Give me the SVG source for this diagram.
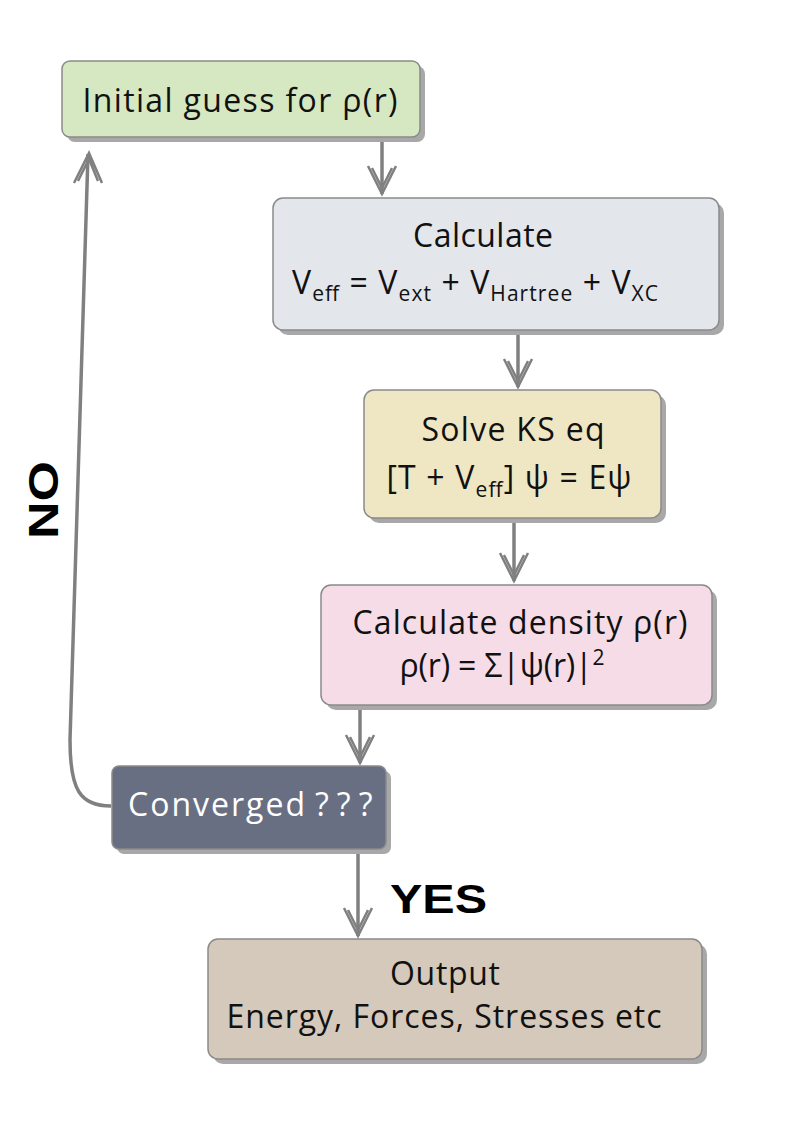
<svg xmlns="http://www.w3.org/2000/svg" width="794" height="1123" viewBox="0 0 794 1123">
<style>
.box{stroke:#8a8a8a;stroke-width:1.5}
.sh{fill:#a8a8a8}
.t{font-family:"Open Sans","Liberation Sans",sans-serif;font-size:32px;fill:#111;text-anchor:middle}
.sub{font-size:21px}
.lbl{font-family:"Liberation Sans",sans-serif;font-weight:bold;fill:#000}
.edge{fill:none;stroke:#808080;stroke-width:3.5}
.head{fill:none;stroke:#808080;stroke-width:2.5;stroke-linejoin:miter}
</style>
<rect width="794" height="1123" fill="#ffffff"/>
<g id="connectors">
<line class="edge" x1="382" y1="139" x2="382" y2="194"/>
<path class="head" d="M368,166 L382,194 L396,166 M372,168 L382,188 L392,168"/>
<line class="edge" x1="518" y1="332" x2="518" y2="387"/>
<path class="head" d="M504,359 L518,387 L532,359 M508,361 L518,381 L528,361"/>
<line class="edge" x1="514" y1="520" x2="514" y2="581"/>
<path class="head" d="M500,553 L514,581 L528,553 M504,555 L514,575 L524,555"/>
<line class="edge" x1="360" y1="707" x2="360" y2="763"/>
<path class="head" d="M346,735 L360,763 L374,735 M350,737 L360,757 L370,737"/>
<line class="edge" x1="358" y1="851" x2="358" y2="936"/>
<path class="head" d="M344,908 L358,936 L372,908 M348,910 L358,930 L368,910"/>
<path class="edge" d="M111,806 C80,806 70,790 70,740 L88,154"/>
<path class="head" d="M74,183 L89,153 L102,183 M78,181 L89,159 L98,181"/>
</g>
<g id="n1">
<rect class="sh" x="67" y="66" width="358" height="76" rx="8"/>
<rect class="box" x="62" y="61" width="358" height="76" rx="8" fill="#d5e8c1"/>
<text class="t" x="240" y="112" textLength="315" lengthAdjust="spacing">Initial guess for ρ(r)</text>
</g>
<g id="n2">
<rect class="sh" x="278" y="203" width="446" height="132" rx="10"/>
<rect class="box" x="273" y="198" width="446" height="132" rx="10" fill="#e3e6eb"/>
<text class="t" x="483" y="247" textLength="140" lengthAdjust="spacing">Calculate</text>
<text class="t" x="475" y="294" textLength="366" lengthAdjust="spacing">V<tspan class="sub" dy="7">eff</tspan><tspan dy="-7"> = V</tspan><tspan class="sub" dy="7">ext</tspan><tspan dy="-7"> + V</tspan><tspan class="sub" dy="7">Hartree</tspan><tspan dy="-7"> + V</tspan><tspan class="sub" dy="7">XC</tspan></text>
</g>
<g id="n3">
<rect class="sh" x="369" y="395" width="297" height="128" rx="10"/>
<rect class="box" x="364" y="390" width="297" height="128" rx="10" fill="#efe6c4"/>
<text class="t" x="513" y="441" textLength="183" lengthAdjust="spacing">Solve KS eq</text>
<text class="t" x="509" y="489" textLength="245" lengthAdjust="spacing">[T + V<tspan class="sub" dy="8">eff</tspan><tspan dy="-8">] ψ = Eψ</tspan></text>
</g>
<g id="n4">
<rect class="sh" x="326" y="590" width="391" height="120" rx="10"/>
<rect class="box" x="321" y="585" width="391" height="120" rx="10" fill="#f6dce6"/>
<text class="t" x="520" y="634" textLength="335" lengthAdjust="spacing">Calculate density ρ(r)</text>
<text class="t" x="502" y="677" textLength="205" lengthAdjust="spacing">ρ(r) = Σ|ψ(r)|<tspan class="sub" dy="-12">2</tspan></text>
</g>
<g id="n5">
<rect class="sh" x="117" y="771" width="274" height="83" rx="7"/>
<rect class="box" x="112" y="766" width="274" height="83" rx="7" fill="#696f83"/>
<text class="t" x="128" y="816" style="fill:#ffffff;text-anchor:start"><tspan letter-spacing="2">Converged</tspan><tspan x="315" letter-spacing="8">???</tspan></text>
</g>
<g id="n6">
<rect class="sh" x="213" y="944" width="494" height="120" rx="10"/>
<rect class="box" x="208" y="939" width="494" height="120" rx="10" fill="#d4c9bb"/>
<text class="t" x="445" y="985" textLength="110" lengthAdjust="spacing">Output</text>
<text class="t" x="444" y="1028" textLength="435" lengthAdjust="spacing">Energy, Forces, Stresses etc</text>
</g>
<text class="lbl" x="0" y="0" font-size="42" transform="translate(58,500) rotate(-90)" text-anchor="middle" textLength="78" lengthAdjust="spacingAndGlyphs">NO</text>
<text class="lbl" x="390" y="913" font-size="40" textLength="97" lengthAdjust="spacingAndGlyphs">YES</text>
</svg>
